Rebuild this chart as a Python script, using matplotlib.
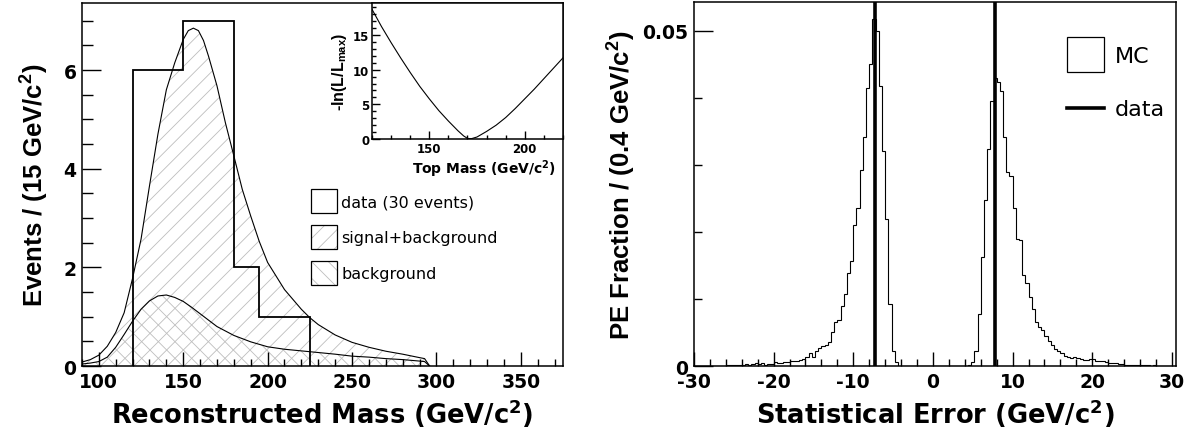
import numpy as np
import matplotlib.pyplot as plt
from matplotlib.patches import Patch
from matplotlib.lines import Line2D
from matplotlib.legend_handler import HandlerLine2D
from matplotlib.ticker import MultipleLocator, FuncFormatter

# horizontal texts in the reference look wide, vertical ones narrow:
# DejaVu for the former, Liberation Sans for the latter
plt.rcParams['font.family'] = ['DejaVu Sans']
plt.rcParams['font.weight'] = 'bold'
plt.rcParams['axes.labelweight'] = 'bold'
plt.rcParams['mathtext.default'] = 'regular'
plt.rcParams['axes.unicode_minus'] = False
plt.rcParams['hatch.linewidth'] = 0.6
plt.rcParams['axes.linewidth'] = 1.1
VFONT = ['Liberation Sans', 'DejaVu Sans']

# --- left panel: reconstructed mass ---
data_edges = [120, 135, 150, 165, 180, 195, 210, 225]
data_counts = [6, 6, 7, 7, 2, 1, 1]

sb_mass = [90, 95, 100, 105, 110, 115, 120, 125, 130, 135, 140, 145, 150, 153, 156,
           159, 162, 165, 170, 175, 180, 185, 190, 195, 200, 210, 220, 225, 230, 240,
           250, 260, 270, 280, 290, 293, 296]
sb_vals = [0.08, 0.13, 0.22, 0.4, 0.68, 1.08, 1.78, 2.57, 3.65, 4.7, 5.6, 6.15,
           6.62, 6.8, 6.85, 6.8, 6.6, 6.28, 5.68, 4.93, 4.26, 3.58, 3.04, 2.53, 2.1,
           1.55, 1.15, 0.98, 0.84, 0.63, 0.48, 0.38, 0.3, 0.24, 0.17, 0.15, 0.0]

bkg_mass = [90, 95, 100, 105, 110, 115, 120, 125, 130, 135, 140, 145, 150, 155,
            160, 170, 180, 190, 200, 210, 225, 240, 250, 260, 270, 280, 290, 293, 296]
bkg_vals = [0.04, 0.06, 0.09, 0.18, 0.38, 0.64, 0.91, 1.15, 1.32, 1.42, 1.44, 1.39,
            1.31, 1.19, 1.06, 0.8, 0.62, 0.49, 0.39, 0.34, 0.29, 0.24, 0.2, 0.18,
            0.15, 0.13, 0.1, 0.09, 0.0]

# inset: -ln(L/Lmax) vs top mass
lik_mass = [120, 125, 130, 135, 140, 145, 150, 155, 160, 165, 168, 170, 172, 175,
            180, 185, 190, 195, 200, 205, 210, 215, 220]
lik_vals = [18.7, 16.2, 13.9, 11.7, 9.6, 7.6, 5.8, 4.1, 2.6, 1.2, 0.45, 0.1, 0.05,
            0.3, 1.1, 2.0, 3.1, 4.4, 5.8, 7.2, 8.7, 10.2, 11.7]

# --- right panel: statistical error of pseudo-experiments ---
pe_lo, pe_hi, pe_nbins = -30.0, 30.0, 150
# bins 10..63 (from -26.0 GeV)
mc_neg = [0.0001, 0.0002, 0.0002, 0.0001, 0.0002, 0.0002, 0.0003, 0.0002, 0.0003, 0.0004,
          0.0003, 0.0004, 0.0002, 0.0003, 0.0003, 0.0006, 0.0005, 0.0004, 0.0006, 0.0006,
          0.0007, 0.0008, 0.0008, 0.0009, 0.0011, 0.0014, 0.0019, 0.0013, 0.0022, 0.0027,
          0.0030, 0.0032, 0.0036, 0.0050, 0.0065, 0.0068, 0.0090, 0.0108, 0.0138, 0.0157,
          0.0211, 0.0235, 0.0292, 0.0342, 0.0414, 0.0450, 0.0518, 0.0499, 0.0418, 0.0320,
          0.0220, 0.0093, 0.0023, 0.0006]
# bins 86..149 (from 4.4 GeV)
mc_pos = [0.0001, 0.0006, 0.0022, 0.0078, 0.0162, 0.0247, 0.0324, 0.0395, 0.0429, 0.0424,
          0.0410, 0.0341, 0.0290, 0.0284, 0.0235, 0.0190, 0.0188, 0.0136, 0.0124, 0.0103,
          0.0085, 0.0065, 0.0058, 0.0053, 0.0045, 0.0038, 0.0031, 0.0026, 0.0023, 0.0019,
          0.0015, 0.0014, 0.0012, 0.0013, 0.0012, 0.0011, 0.0009, 0.0009, 0.0010, 0.0010,
          0.0007, 0.0007, 0.0008, 0.0006, 0.0005, 0.0005, 0.0004, 0.0003, 0.0003, 0.0002,
          0.0002, 0.0002, 0.0001, 0.0001, 0.0001, 0.0001, 0.0001, 0.0, 0.0001, 0.0,
          0.0, 0.0, 0.0, 0.0]
data_errors = [-7.3, 7.8]

hatch_col = '#bdbdbd'


class CenteredLine(HandlerLine2D):
    # put the legend line in the middle of its (tall) handle box
    def create_artists(self, legend, orig_handle, xdescent, ydescent, width, height,
                       fontsize, trans):
        arts = super().create_artists(legend, orig_handle, xdescent, ydescent, width,
                                      height, fontsize, trans)
        for a in arts:
            a.set_ydata(np.asarray(a.get_ydata()) - ydescent / 2)
        return arts


def root_ticks(ax, major_len, minor_len, labelsize, pad):
    ax.tick_params(which='both', direction='in', top=False, right=False, width=1.0)
    ax.tick_params(which='major', length=major_len, labelsize=labelsize, pad=pad)
    ax.tick_params(which='minor', length=minor_len)


fig = plt.figure(figsize=(11.93, 4.35), dpi=100)

# ---------- left panel ----------
ax1 = fig.add_axes([0.0687, 0.1563, 0.4032, 0.8345])
ax1.fill_between(sb_mass, sb_vals, facecolor='none', edgecolor=hatch_col, hatch='//', lw=0)
ax1.fill_between(bkg_mass, bkg_vals, facecolor='none', edgecolor=hatch_col, hatch='\\\\', lw=0)
ax1.plot(sb_mass, sb_vals, color='black', lw=0.8)
ax1.plot(bkg_mass, bkg_vals, color='black', lw=0.8)
ax1.stairs(data_counts, data_edges, baseline=0, color='black', lw=1.3)

ax1.set_xlim(90, 375)
ax1.set_ylim(0, 7.36)
ax1.xaxis.set_major_locator(MultipleLocator(50))
ax1.xaxis.set_minor_locator(MultipleLocator(10))
ax1.yaxis.set_major_locator(MultipleLocator(2))
ax1.yaxis.set_minor_locator(MultipleLocator(0.5))
root_ticks(ax1, 10, 5, 13.5, 4)
ax1.tick_params(axis='y', which='major', length=14)
ax1.tick_params(axis='y', which='minor', length=8)
ax1.set_xlabel('Reconstructed Mass (GeV/c$^2$)', fontsize=18.5, labelpad=4)
ax1.set_ylabel('Events / (15 GeV/c$^2$)', fontsize=18.5, labelpad=9, family=VFONT)

box = dict(facecolor='none', edgecolor='black', lw=0.9)
handles = [Patch(**box),
           (Patch(facecolor='none', edgecolor=hatch_col, hatch='//', lw=0), Patch(**box)),
           (Patch(facecolor='none', edgecolor=hatch_col, hatch='\\\\', lw=0), Patch(**box))]
labels = ['data (30 events)', 'signal+background', 'background']
ax1.legend(handles, labels, loc='upper left', bbox_to_anchor=(311 / 1193, 1 - 190 / 435),
           bbox_transform=fig.transFigure, frameon=False, borderpad=0, borderaxespad=0,
           handlelength=1.63, handleheight=1.93, handletextpad=0.25, labelspacing=0.75,
           prop={'size': 11.5, 'weight': 'normal'})

# inset
axi = fig.add_axes([0.3118, 0.678, 0.1601, 0.3128])
axi.plot(lik_mass, lik_vals, color='black', lw=0.8)
axi.set_xlim(120, 220)
axi.set_ylim(0, 19.6)
axi.xaxis.set_major_locator(MultipleLocator(50))
axi.xaxis.set_minor_locator(MultipleLocator(10))
axi.yaxis.set_major_locator(MultipleLocator(5))
axi.yaxis.set_minor_locator(MultipleLocator(1))
root_ticks(axi, 6, 3, 8.5, 2)
axi.set_xlabel('Top Mass (GeV/c$^2$)', fontsize=10, labelpad=2)
axi.xaxis.label.set_x(0.965)
axi.xaxis.label.set_ha('right')
axi.set_ylabel('-ln(L/L$_{max}$)', fontsize=11.5, labelpad=3, family=VFONT)

# ---------- right panel ----------
ax2 = fig.add_axes([0.5817, 0.1563, 0.404, 0.8368])
edges = np.linspace(pe_lo, pe_hi, pe_nbins + 1)
mc = np.zeros(pe_nbins)
mc[10:10 + len(mc_neg)] = mc_neg
mc[86:86 + len(mc_pos)] = mc_pos
ax2.stairs(mc, edges, color='black', lw=0.8)
for v in data_errors:
    ax2.axvline(v, color='black', lw=2.6)

ax2.set_xlim(-30, 30.5)
ax2.set_ylim(0, 0.0543)
ax2.xaxis.set_major_locator(MultipleLocator(10))
ax2.xaxis.set_minor_locator(MultipleLocator(2))
ax2.yaxis.set_major_locator(MultipleLocator(0.05))
ax2.yaxis.set_minor_locator(MultipleLocator(0.01))
ax2.yaxis.set_major_formatter(FuncFormatter(lambda v, p: '0' if v == 0 else f'{v:g}'))
root_ticks(ax2, 10, 5, 13.5, 4)
ax2.tick_params(axis='y', which='major', length=14)
ax2.tick_params(axis='y', which='minor', length=6)
ax2.set_xlabel('Statistical Error (GeV/c$^2$)', fontsize=18.5, labelpad=4)
ax2.set_ylabel('PE Fraction / (0.4 GeV/c$^2$)', fontsize=18.5, labelpad=3, family=VFONT)

handles2 = [Patch(facecolor='none', edgecolor='black', lw=0.9),
            Line2D([], [], color='black', lw=2.6)]
ax2.legend(handles2, ['MC', 'data'], loc='upper left',
           bbox_to_anchor=(1067 / 1193, 1 - 38 / 435), bbox_transform=fig.transFigure,
           frameon=False, borderpad=0, borderaxespad=0, handlelength=1.67,
           handleheight=2.05, handletextpad=0.5, labelspacing=0.81,
           handler_map={Line2D: CenteredLine()},
           prop={'size': 16, 'weight': 'normal'})

fig.savefig('out.png', dpi=100)
